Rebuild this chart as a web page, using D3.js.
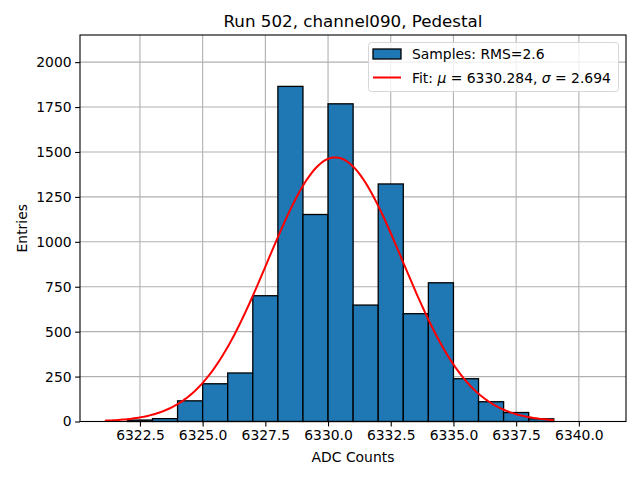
<!DOCTYPE html>
<html>
<head>
<style>
    body { margin: 0; background: #fff; }
    text { font-family: "DejaVu Sans", sans-serif; fill: #000; }
</style>
<script src="https://d3js.org/d3.v7.min.js"></script>
</head>
<body>
<svg width="640" height="480"></svg>
<script>
    // histogram bins (left edge, width 1) and counts
    var binEdges = [6322, 6323, 6324, 6325, 6326, 6327, 6328, 6329, 6330, 6331, 6332, 6333, 6334, 6335, 6336, 6337, 6338];
    var counts   = [8, 16, 115, 210, 270, 700, 1865, 1152, 1768, 648, 1322, 600, 772, 238, 110, 50, 15];
    var xTicks = [6322.5, 6325.0, 6327.5, 6330.0, 6332.5, 6335.0, 6337.5, 6340.0];
    var yTicks = [0, 250, 500, 750, 1000, 1250, 1500, 1750, 2000];

    // gaussian fit parameters
    var fitMu = 6330.284, fitSigma = 2.694, fitAmp = 1470;
    var fitRange = [6321.1, 6339.0];

    var svg = d3.select('svg');
    var padL = 80, padR = 626, padT = 35, padB = 421.5;

    var x = d3.scaleLinear().domain([6320.11, 6341.88]).range([padL, padR]);
    var y = d3.scaleLinear().domain([0, 2151]).range([padB, padT]);

    // grid
    var grid = svg.append('g');
    grid.selectAll('.gx').data(xTicks).enter().append('line')
        .attr('x1', d => x(d)).attr('x2', d => x(d))
        .attr('y1', padT).attr('y2', padB)
        .attr('stroke', '#b0b0b0').attr('stroke-width', 1.1);
    grid.selectAll('.gy').data(yTicks).enter().append('line')
        .attr('x1', padL).attr('x2', padR)
        .attr('y1', d => y(d)).attr('y2', d => y(d))
        .attr('stroke', '#b0b0b0').attr('stroke-width', 1.1);

    // bars
    svg.append('g').selectAll('rect')
        .data(binEdges)
        .enter().append('rect')
        .attr('x', d => x(d))
        .attr('width', d => x(d + 1) - x(d))
        .attr('y', (d, i) => y(counts[i]))
        .attr('height', (d, i) => y(0) - y(counts[i]))
        .attr('fill', '#1f77b4')
        .attr('stroke', '#000').attr('stroke-width', 1.3);

    // fit curve
    var fitX = d3.range(0, 201).map(i => fitRange[0] + (fitRange[1] - fitRange[0]) * i / 200);
    var line = d3.line()
        .x(d => x(d))
        .y(d => y(fitAmp * Math.exp(-0.5 * Math.pow((d - fitMu) / fitSigma, 2))));
    svg.append('path').datum(fitX)
        .attr('d', line)
        .attr('fill', 'none').attr('stroke', 'red').attr('stroke-width', 2);

    // axes
    var xAxis = d3.axisBottom(x).tickValues(xTicks).tickFormat(d3.format('.1f')).tickSizeOuter(0).tickSize(4.9).tickPadding(3.5);
    var yAxis = d3.axisLeft(y).tickValues(yTicks).tickFormat(d3.format('d')).tickSizeOuter(0).tickSize(4.9).tickPadding(3.5);
    var gx = svg.append('g').attr('transform', 'translate(0,' + padB + ')').call(xAxis);
    var gy = svg.append('g').attr('transform', 'translate(' + padL + ',0)').call(yAxis);
    [gx, gy].forEach(function (g) {
        g.select('.domain').remove();
        g.selectAll('.tick line').attr('stroke', '#000').attr('stroke-width', 1.1);
        g.selectAll('.tick text').style('font-size', '13.9px').attr('fill', '#000')
            .style('font-family', '"DejaVu Sans", sans-serif');
    });

    // frame
    svg.append('rect')
        .attr('x', padL).attr('y', padT)
        .attr('width', padR - padL).attr('height', padB - padT)
        .attr('fill', 'none').attr('stroke', '#000').attr('stroke-width', 1.1);

    // labels
    svg.append('text').attr('x', (padL + padR) / 2).attr('y', 27)
        .attr('text-anchor', 'middle').style('font-size', '16.7px')
        .text('Run 502, channel090, Pedestal');
    svg.append('text').attr('x', (padL + padR) / 2).attr('y', 462)
        .attr('text-anchor', 'middle').style('font-size', '13.9px')
        .text('ADC Counts');
    svg.append('text')
        .attr('transform', 'translate(27,' + ((padT + padB) / 2) + ') rotate(-90)')
        .attr('text-anchor', 'middle').style('font-size', '13.9px')
        .text('Entries');

    // legend
    var lg = svg.append('g');
    lg.append('rect').attr('x', 368.5).attr('y', 42.5).attr('width', 250).attr('height', 49)
        .attr('rx', 3).attr('fill', '#fff').attr('fill-opacity', 0.8)
        .attr('stroke', '#d6d6d6').attr('stroke-width', 1);
    lg.append('rect').attr('x', 373).attr('y', 49).attr('width', 28).attr('height', 10)
        .attr('fill', '#1f77b4').attr('stroke', '#000').attr('stroke-width', 1.3);
    lg.append('line').attr('x1', 373).attr('x2', 401).attr('y1', 77.5).attr('y2', 77.5)
        .attr('stroke', 'red').attr('stroke-width', 2);
    lg.append('text').attr('x', 412).attr('y', 59).style('font-size', '13.9px')
        .text('Samples: RMS=2.6');
    var t2 = lg.append('text').attr('x', 412).attr('y', 82.5).style('font-size', '13.9px');
    t2.append('tspan').text('Fit: ');
    t2.append('tspan').style('font-style', 'italic').text('\u03bc');
    t2.append('tspan').text(' = 6330.284, ');
    t2.append('tspan').style('font-style', 'italic').text('\u03c3');
    t2.append('tspan').text(' = 2.694');
</script>
</body>
</html>
